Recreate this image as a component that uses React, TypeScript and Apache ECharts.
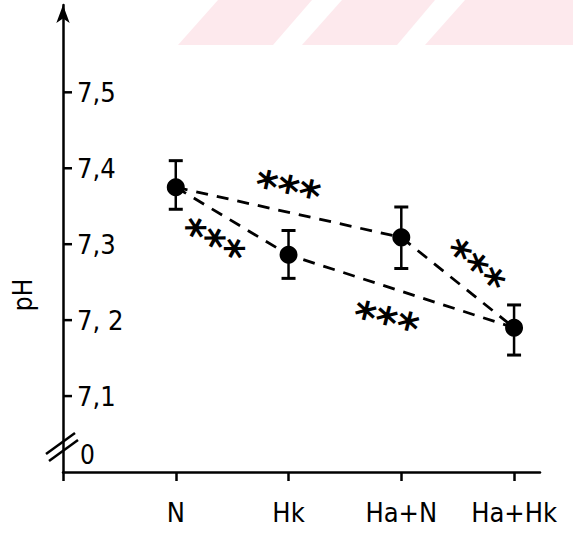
import React, { useEffect, useRef } from "react";
import * as echarts from "echarts";

const categories = ["N", "Hk", "Ha+N", "Ha+Hk"];
const meanPH = [7.375, 7.286, 7.309, 7.19];
const lowPH = [7.346, 7.255, 7.268, 7.154];
const highPH = [7.41, 7.318, 7.349, 7.22];
const yTicks = [7.1, 7.2, 7.3, 7.4, 7.5];
const yTickLabels = ["7,1", "7, 2", "7,3", "7,4", "7,5"];
// dashed connections (category indices)
const pathA = [0, 1, 3];
const pathB = [0, 2, 3];
// significance marks: [x position, y position, rotation]
const sigX = [1.99, 1.32, 3.64, 2.86];
const sigY = [7.37, 7.30, 7.268, 7.197];
const sigRot = [-12, -28, -40, -14];
const sigText = "***";

export default function App() {
  const ref = useRef<HTMLDivElement>(null);
  useEffect(() => {
    document.body.style.margin = "0";
    const chart = echarts.init(ref.current!, null, { renderer: "svg" });
    const font = "DejaVu Sans Condensed";
    const pts = categories.map((_, i) => [i + 1, meanPH[i]]);
    const st = { stroke: "#000", lineWidth: 2.5 };
    const baseGraphic: any[] = [
      { type: "polygon", shape: { points: [[178, 45], [218, 0], [312, 0], [273, 45]] }, style: { fill: "#fde9ed" }, z: -1 },
      { type: "polygon", shape: { points: [[302, 45], [342, 0], [435, 0], [397, 45]] }, style: { fill: "#fde9ed" }, z: -1 },
      { type: "polygon", shape: { points: [[425, 45], [465, 0], [573, 0], [573, 45]] }, style: { fill: "#fde9ed" }, z: -1 },
      { type: "line", shape: { x1: 46, y1: 454, x2: 75, y2: 433 }, style: { ...st } },
      { type: "line", shape: { x1: 49, y1: 461, x2: 78, y2: 440 }, style: { ...st } },
      { type: "text", x: 80, y: 455, style: { text: "0", font: `26px "${font}"`, fill: "#000", verticalAlign: "middle" } },
      { type: "text", x: 23, y: 295, rotation: Math.PI / 2, style: { text: "pH", font: `26px "${font}"`, fill: "#000", align: "center", verticalAlign: "middle" } },
    ];
    const option: any = {
      animation: false,
      backgroundColor: "#fff",
      grid: { left: 63, right: 33, top: 5, bottom: 61 },
      graphic: baseGraphic,
      xAxis: {
        type: "value",
        min: 0,
        max: 4.23,
        interval: 1,
        splitLine: { show: false },
        axisLine: { lineStyle: { color: "#000", width: 2.5 } },
        axisTick: { show: true, length: 9, lineStyle: { color: "#000", width: 2.5 } },
        axisLabel: {
          showMaxLabel: false,
          formatter: (v: number) => categories[Math.round(v) - 1] ?? "",
          color: "#000",
          fontFamily: font,
          fontSize: 27,
          margin: 27,
        },
      },
      yAxis: {
        type: "value",
        min: 7.0,
        max: 7.615,
        interval: 0.1,
        splitLine: { show: false },
        axisLine: { symbol: ["none", "arrow"], symbolSize: [10, 18], lineStyle: { color: "#000", width: 2.5 } },
        axisTick: { show: false },
        axisLabel: { show: false },
      },
      series: [
        {
          type: "line",
          data: pathA.map((i) => pts[i]),
          symbol: "none",
          lineStyle: { color: "#000", width: 2.8, type: [12, 9] },
          z: 1,
        },
        {
          type: "line",
          data: pathB.map((i) => pts[i]),
          symbol: "none",
          lineStyle: { color: "#000", width: 2.8, type: [12, 9] },
          z: 1,
        },
        {
          type: "custom",
          data: categories.map((_, i) => [i + 1, lowPH[i], highPH[i]]),
          renderItem: (params: any, api: any) => {
            const lo = api.coord([api.value(0), api.value(1)]);
            const hi = api.coord([api.value(0), api.value(2)]);
            const w = 7;
            return {
              type: "group",
              children: [
                { type: "line", shape: { x1: lo[0], y1: lo[1], x2: hi[0], y2: hi[1] }, style: { ...st } },
                { type: "line", shape: { x1: lo[0] - w, y1: lo[1], x2: lo[0] + w, y2: lo[1] }, style: { ...st, lineWidth: 3 } },
                { type: "line", shape: { x1: hi[0] - w, y1: hi[1], x2: hi[0] + w, y2: hi[1] }, style: { ...st, lineWidth: 3 } },
              ],
            };
          },
          z: 2,
        },
        {
          type: "scatter",
          data: pts,
          symbol: "circle",
          symbolSize: 18,
          itemStyle: { color: "#000", opacity: 1 },
          z: 3,
        },
        {
          type: "scatter",
          data: sigX.map((x, i) => ({
            value: [x, sigY[i]],
            label: { rotate: sigRot[i] },
          })),
          symbolSize: 0,
          itemStyle: { color: "#000", opacity: 1 },
          label: {
            show: true,
            position: "inside",
            formatter: sigText,
            color: "#000",
            textBorderWidth: 0,
            fontFamily: "DejaVu Sans",
            fontSize: 42,
            fontWeight: "bold",
          },
          z: 4,
        },
      ],
    };
    chart.setOption(option);
    // y-axis ticks and labels placed through the axis scale
    const extra: any[] = [];
    yTicks.forEach((v, i) => {
      const p = chart.convertToPixel({ gridIndex: 0 }, [0, v]) as number[];
      extra.push({ type: "line", shape: { x1: p[0], y1: p[1], x2: p[0] + 9, y2: p[1] }, style: { ...st } });
      extra.push({
        type: "text",
        x: p[0] + 14,
        y: p[1],
        style: { text: yTickLabels[i], font: `27px "${font}"`, fill: "#000", verticalAlign: "middle" },
      });
    });
    chart.setOption({ graphic: [...baseGraphic, ...extra] });
    return () => chart.dispose();
  }, []);
  return <div ref={ref} style={{ width: 573, height: 533 }} />;
}
